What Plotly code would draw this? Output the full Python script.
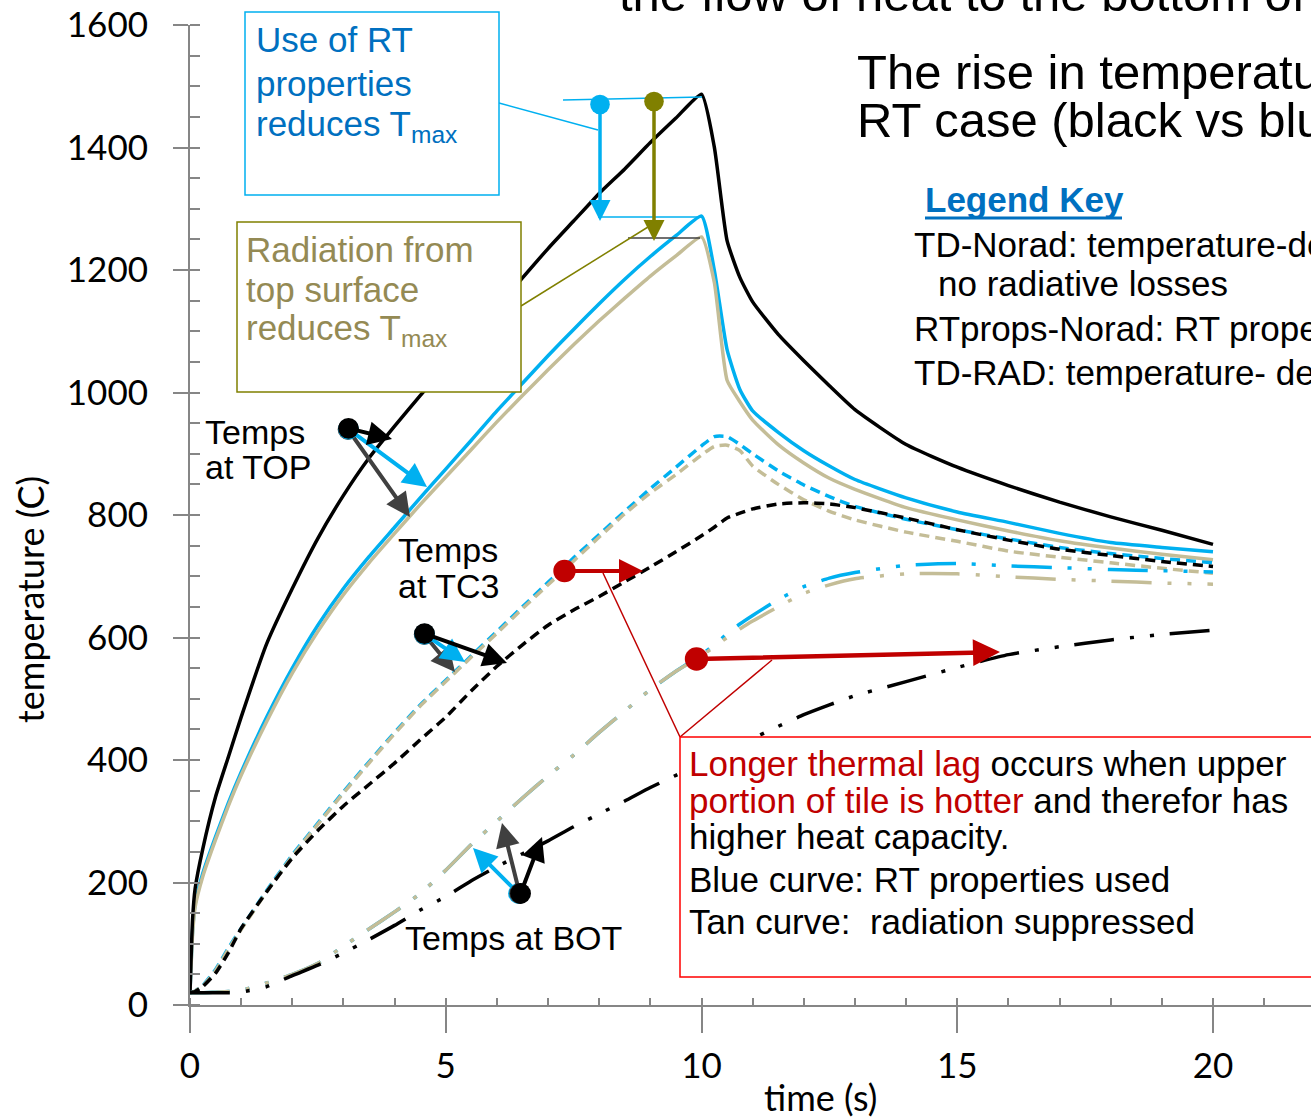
import plotly.graph_objects as go

# ---------------- data ----------------
time = [0, 0.05, 0.1, 0.25, 0.5, 0.75, 1, 1.5, 2, 2.5, 3, 3.5, 4, 4.5, 5, 5.5, 6, 6.5, 7, 7.5,
        8, 8.5, 9, 9.5, 10, 10.25, 10.5, 10.75, 11, 11.5, 12, 12.5, 13, 14, 15, 16, 17, 18, 19, 20]

top_td_norad = [20, 140, 190, 255, 340, 405, 470, 590, 680, 762, 832, 893, 945, 995, 1043, 1090,
                1138, 1187, 1235, 1280, 1325, 1365, 1408, 1448, 1487, 1401, 1248, 1188, 1148, 1095,
                1052, 1011, 972, 915, 878, 848, 821, 797, 775, 752]
top_rtprops = [20, 120, 165, 215, 275, 330, 380, 470, 550, 620, 680, 732, 780, 828, 875, 922,
               970, 1015, 1060, 1103, 1145, 1185, 1222, 1256, 1288, 1200, 1070, 1005, 970, 935,
               905, 880, 858, 828, 805, 788, 770, 755, 747, 740]
top_td_rad = [20, 115, 160, 210, 270, 325, 375, 463, 542, 610, 670, 722, 770, 817, 862, 907,
              952, 995, 1037, 1078, 1117, 1154, 1190, 1223, 1254, 1180, 1020, 985, 955, 915,
              885, 860, 842, 812, 792, 774, 758, 746, 736, 727]

tc3_td_norad = [20, 21, 22, 30, 52, 85, 125, 185, 240, 285, 325, 360, 395, 433, 470, 513,
                553, 588, 620, 645, 667, 691, 715, 740, 766, 780, 795, 803, 810, 818,
                820, 818, 812, 795, 776, 759, 744, 734, 724, 716]
tc3_rtprops = [20, 21, 23, 32, 58, 93, 125, 187, 245, 297, 348, 397, 445, 490, 530, 570,
               610, 650, 690, 730, 768, 806, 843, 878, 913, 928, 928, 915, 900, 872,
               849, 830, 814, 793, 776, 761, 747, 737, 729, 722]
tc3_td_rad = [20, 21, 23, 31, 56, 91, 123, 185, 243, 295, 346, 395, 443, 488, 528, 568,
              607, 647, 686, 725, 764, 802, 836, 866, 898, 912, 914, 905, 880, 850,
              825, 806, 792, 772, 757, 741, 731, 722, 713, 705]

bot_td_norad = [20, 20, 20, 20, 20, 20, 21, 30, 48, 65, 85, 107, 130, 155, 177, 203,
                226, 247, 268, 291, 312, 333, 355, 375, 395, 405, 415, 425, 435, 455,
                474, 490, 505, 528, 551, 572, 585, 596, 605, 612]
bot_rtprops = [20, 20, 20, 20, 21, 22, 24, 36, 50, 68, 96, 124, 152, 182, 220, 262,
               300, 338, 374, 408, 445, 480, 515, 545, 572, 588, 606, 622, 636, 662,
               683, 697, 706, 718, 721, 717, 714, 711, 709, 707]
bot_td_rad = [20, 20, 20, 20, 21, 22, 24, 36, 50, 68, 96, 124, 152, 182, 220, 262,
              300, 338, 374, 408, 445, 480, 515, 545, 570, 585, 600, 614, 627, 650,
              672, 686, 696, 704, 704, 699, 695, 692, 689, 687]

x_ticks = [0, 5, 10, 15, 20]
y_ticks = [0, 200, 400, 600, 800, 1000, 1200, 1400, 1600]

# ---------------- styling ----------------
W, H = 1311, 1117
L, T, R, B = 190, 25, 0, 112
PW, PH = W - L - R, H - T - B
X_MAX = (W - L) / 51.15

BLACK = "#000000"
BLUE = "#00B0F0"
TAN = "#C4BD97"
AXIS = "#868686"
NARROW = "Liberation Sans, Arial, sans-serif"
ARIAL = "Liberation Sans, Arial, sans-serif"
CAL = "Lato, Open Sans, sans-serif"

DASH_TC3 = "10px,6px"
DASH_BOT = "40px,16px,4px,16px,4px,16px"

fig = go.Figure()

series = [
    (top_rtprops, BLUE, "solid", 3.5),
    (top_td_rad, TAN, "solid", 3.5),
    (top_td_norad, BLACK, "solid", 3.5),
    (tc3_rtprops, BLUE, DASH_TC3, 3.5),
    (tc3_td_rad, TAN, DASH_TC3, 3.5),
    (tc3_td_norad, BLACK, DASH_TC3, 3.5),
    (bot_rtprops, BLUE, DASH_BOT, 3.5),
    (bot_td_rad, TAN, DASH_BOT, 3.5),
    (bot_td_norad, BLACK, DASH_BOT, 3.5),
]
for vals, col, dash, w in series:
    fig.add_trace(go.Scatter(x=time, y=vals, mode="lines",
                             line=dict(color=col, width=w, dash=dash, shape="spline", smoothing=0.5),
                             hoverinfo="skip", showlegend=False))


def px(xp):
    return (xp - L) / PW


def py(yp):
    return (H - B - yp) / PH


def text(s, xp, yp, size, color=BLACK, family=NARROW, xanchor="left", textangle=0):
    fig.add_annotation(text=s, x=px(xp), y=py(yp), xref="paper", yref="paper",
                       xanchor=xanchor, yanchor="middle", showarrow=False, align="left",
                       textangle=textangle, borderpad=0,
                       font=dict(family=family, size=size, color=color))


def line(p0, p1, color, width):
    fig.add_shape(type="line", xref="paper", yref="paper",
                  x0=px(p0[0]), y0=py(p0[1]), x1=px(p1[0]), y1=py(p1[1]),
                  line=dict(color=color, width=width), layer="above")


def rect(p0, p1, color, width):
    fig.add_shape(type="rect", xref="paper", yref="paper",
                  x0=px(p0[0]), y0=py(p0[1]), x1=px(p1[0]), y1=py(p1[1]),
                  line=dict(color=color, width=width), fillcolor="white", layer="above")


def arrow(tail, tip, color, width=4, dot=True, dotsize=1.0, headsize=1.0):
    fig.add_annotation(x=px(tip[0]), y=py(tip[1]), xref="paper", yref="paper",
                       ax=tail[0] - tip[0], ay=tail[1] - tip[1], axref="pixel", ayref="pixel",
                       text="", showarrow=True, arrowhead=2, arrowsize=headsize,
                       arrowwidth=width, arrowcolor=color,
                       arrowside="end+start" if dot else "end",
                       startarrowhead=6, startarrowsize=dotsize,
                       standoff=0, startstandoff=0)


# connectors & boxes
line((499, 103), (598, 130), BLUE, 1.5)
line((563, 100), (702, 97), BLUE, 1.5)
line((598, 217), (702, 217), BLUE, 1.5)
line((628, 238), (700, 238), "#404040", 1.5)
line((521, 306), (648, 227), "#808000", 1.5)
line((603, 573), (680, 737), "#C00000", 1.5)
line((772, 660), (680, 737), "#C00000", 1.5)

rect((245, 12), (499, 195), BLUE, 1.5)
rect((237, 222), (521, 392), "#808000", 1.5)
rect((680, 737), (1330, 977), "#FF0000", 1.5)

# arrows
arrow((600, 103), (600, 221), BLUE, 3.5, dotsize=1.4, headsize=1.2)
arrow((654, 100), (654, 241), "#808000", 3.5, dotsize=1.4, headsize=1.2)

arrow((347, 428), (410, 517), "#404040", 4, dotsize=1.3, headsize=1.2)
arrow((347, 428), (427, 487), BLUE, 4, dotsize=1.3, headsize=1.2)
arrow((347, 428), (392, 439), BLACK, 4, dotsize=1.3, headsize=1.2)

arrow((423, 633), (455, 672), "#404040", 4, dotsize=1.3, headsize=1.2)
arrow((423, 633), (465, 662), BLUE, 4, dotsize=1.3, headsize=1.2)
arrow((423, 633), (507, 663), BLACK, 4, dotsize=1.3, headsize=1.2)

arrow((520, 895), (473, 848), BLUE, 4, dotsize=1.3, headsize=1.2)
arrow((520, 895), (502, 823), "#404040", 4, dotsize=1.3, headsize=1.2)
arrow((520, 895), (542, 837), BLACK, 4, dotsize=1.3, headsize=1.2)

arrow((563, 571), (643, 571), "#C00000", 4, dotsize=1.4, headsize=1.2)
arrow((695, 659), (1000, 652), "#C00000", 4.5, dotsize=1.3, headsize=1.2)

# box texts
text("Use of RT", 255, 40, 35, "#0070C0")
text("properties", 255, 83, 35, "#0070C0")
text("reduces T<sub>max</sub>", 255, 126, 35, "#0070C0")

text("Radiation from", 245, 250, 35, "#948A54")
text("top surface", 245, 289, 35, "#948A54")
text("reduces T<sub>max</sub>", 245, 330, 35, "#948A54")

text("Temps", 204, 432, 34)
text("at TOP", 204, 467, 34)
text("Temps", 397, 550, 34)
text("at TC3", 397, 586, 34)
text("Temps at BOT", 404, 938, 34)

text("the flow of heat to the bottom of the", 618, -6, 49, family=ARIAL)
text("The rise in temperature", 856, 72, 49, family=ARIAL)
text("RT case (black vs blue", 856, 120, 49, family=ARIAL)

text("<b>Legend Key</b>", 924, 199, 35, "#0070C0")
line((925, 218), (1122, 218), "#0070C0", 3)
text("TD-Norad: temperature-de", 913, 244, 35)
text("no radiative losses", 937, 283, 35)
text("RTprops-Norad: RT prope", 913, 328, 35)
text("TD-RAD: temperature- de", 913, 372, 35)

text("<span style='color:#C00000'>Longer thermal lag</span> occurs when upper", 688, 763, 35)
text("<span style='color:#C00000'>portion of tile is hotter</span> and therefor has", 688, 800, 35)
text("higher heat capacity.", 688, 836, 35)
text("Blue curve: RT properties used", 688, 879, 35)
text("Tan curve:  radiation suppressed", 688, 921, 35)

# axis titles
text("time (s)", 820, 1097, 36, family=CAL, xanchor="center")
text("temperature (C)", 30, 600, 36, family=CAL, xanchor="center", textangle=-90)

fig.update_layout(
    width=W, height=H,
    margin=dict(l=L, r=R, t=T, b=B, pad=0),
    paper_bgcolor="white", plot_bgcolor="white",
    showlegend=False,
    xaxis=dict(range=[0, X_MAX], tickvals=x_ticks, ticktext=[str(v) for v in x_ticks],
               showline=True, linecolor=AXIS, linewidth=2, ticks="outside", ticklen=26,
               tickwidth=2, tickcolor=AXIS, showgrid=False, zeroline=False,
               tickfont=dict(family=CAL, size=35, color=BLACK), ticklabelstandoff=3,
               minor=dict(ticks="inside", ticklen=7, tickwidth=2, tickcolor=AXIS, dtick=1,
                          tick0=0, showgrid=False)),
    yaxis=dict(range=[0, 1600], tickvals=y_ticks, ticktext=[str(v) for v in y_ticks],
               showline=True, linecolor=AXIS, linewidth=2, ticks="outside", ticklen=15,
               tickwidth=2, tickcolor=AXIS, showgrid=False, zeroline=False,
               tickfont=dict(family=CAL, size=35, color=BLACK), ticklabelstandoff=18,
               minor=dict(ticks="inside", ticklen=10, tickwidth=2, tickcolor=AXIS, dtick=50,
                          tick0=0, showgrid=False)),
)

fig.write_html("out.html")
